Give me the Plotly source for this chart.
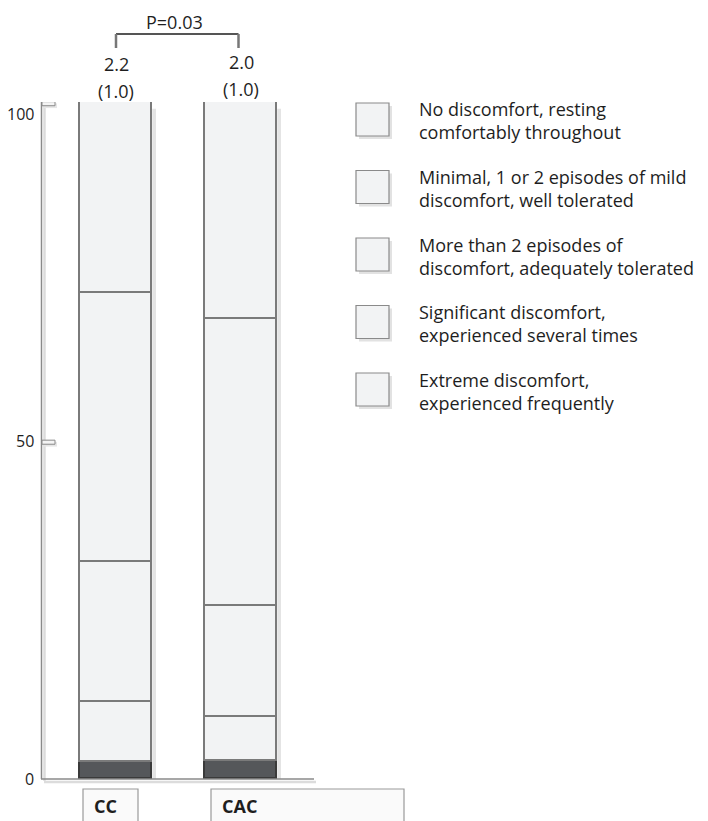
import plotly.graph_objects as go

# data (percent of patients per discomfort level)
groups = ["CC", "CAC"]
levels = [
    "No discomfort, resting<br>comfortably throughout",
    "Minimal, 1 or 2 episodes of mild<br>discomfort, well tolerated",
    "More than 2 episodes of<br>discomfort, adequately tolerated",
    "Significant discomfort,<br>experienced several times",
    "Extreme discomfort,<br>experienced frequently",
]
cc_pct = [28.2, 39.7, 20.7, 8.9, 2.5]
cac_pct = [32.0, 42.5, 16.4, 6.4, 2.7]
means = ["2.2", "2.0"]
sds = ["(1.0)", "(1.0)"]
p_label = "P=0.03"
yticks = [0, 50, 100]

PAGE = 8  # default body margin of the html page
W, H = 708 - PAGE, 821 - PAGE
L, R, T, B = 44, 313, 102, 779  # plot area in page pixels
FONT = "Open Sans"
TXT = "#1e1e1e"
LIGHT = "#f2f3f4"
EDGE = "#7a7a7a"


def px(x):
    return (x - L) / (R - L)


def py(y):
    return (B - y) / (B - T)


fig = go.Figure()

# stacked from the bottom: extreme first
for i in reversed(range(len(levels))):
    dark = i == len(levels) - 1
    fig.add_trace(go.Bar(
        x=groups,
        y=[cc_pct[i], cac_pct[i]],
        name=levels[i],
        width=0.576,
        marker=dict(color="#55575a" if dark else LIGHT,
                    line=dict(color="#3a3a3a" if dark else EDGE, width=1.6)),
        showlegend=False,
        hoverinfo="skip",
    ))

shapes = []
ann = []

# bar shadows
for gi, vals in enumerate([cc_pct, cac_pct]):
    shapes.append(dict(type="rect", xref="x", yref="y", layer="below",
                       x0=gi + 0.29, x1=gi + 0.32, y0=-0.5, y1=sum(vals) - 1,
                       fillcolor="#e4e4e4", line=dict(width=0)))

# axis: double vertical line + baseline with shadow
shapes += [
    dict(type="line", xref="paper", yref="paper", x0=px(44.5), x1=px(44.5), y0=py(104), y1=py(781),
         line=dict(color="#dcdcdc", width=2.5)),
    dict(type="line", xref="paper", yref="paper", x0=px(41.5), x1=px(41.5), y0=py(102), y1=py(779),
         line=dict(color="#8a8a8a", width=1.5)),
    dict(type="line", xref="paper", yref="paper", x0=px(44), x1=px(316), y0=py(782), y1=py(782),
         line=dict(color="#dcdcdc", width=2.5)),
    dict(type="line", xref="paper", yref="paper", x0=px(41), x1=px(314), y0=py(779), y1=py(779),
         line=dict(color="#8a8a8a", width=1.5)),
]
# little flag ticks at 100 and 50
for v in yticks[1:]:
    shapes.append(dict(type="rect", xref="paper", yref="y", x0=px(44), x1=px(57),
                       y0=v - 0.9, y1=v - 0.2, fillcolor="#e6e6e6", line=dict(width=0)))
    shapes.append(dict(type="rect", xref="paper", yref="y", x0=px(42), x1=px(55),
                       y0=v - 0.55, y1=v + 0.05, fillcolor="#f4f4f4",
                       line=dict(color="#8a8a8a", width=1)))

# tick labels
for v in yticks:
    ann.append(dict(x=px(36), y=v, xref="paper", yref="y", text=str(v), showarrow=False,
                    xanchor="right", yanchor="middle", yshift=-12 if v == 100 else 0,
                    font=dict(size=16, color=TXT)))

# mean (SD) above the bars
for gi in range(len(groups)):
    ann.append(dict(x=gi, y=py(64 - gi * 2), xref="x", yref="paper", text=means[gi],
                    showarrow=False, xanchor="center", yanchor="middle",
                    font=dict(size=18, color=TXT)))
    ann.append(dict(x=gi, y=py(91 - gi * 2), xref="x", yref="paper", text=sds[gi],
                    showarrow=False, xanchor="center", yanchor="middle",
                    font=dict(size=18, color=TXT)))

# significance bracket
shapes += [
    dict(type="line", xref="x", yref="paper", x0=0, x1=0.98, y0=py(34), y1=py(34),
         line=dict(color="#555555", width=2)),
    dict(type="line", xref="x", yref="paper", x0=0, x1=0, y0=py(34), y1=py(48),
         line=dict(color="#777777", width=2.5)),
    dict(type="line", xref="x", yref="paper", x0=0.98, x1=0.98, y0=py(34), y1=py(48),
         line=dict(color="#777777", width=2.5)),
]
ann.append(dict(x=px(174), y=py(9), xref="paper", yref="paper", text=p_label, showarrow=False,
                xanchor="center", yanchor="top", borderpad=0, font=dict(size=18, color=TXT)))

# category boxes under the axis
for name, (x0, x1) in zip(groups, [(83, 138), (211, 404)]):
    shapes.append(dict(type="rect", xref="paper", yref="paper", x0=px(x0), x1=px(x1),
                       y0=py(825), y1=py(789), fillcolor="#fafafa",
                       line=dict(color="#9a9a9a", width=1.2)))
    ann.append(dict(x=px(x0 + 9), y=py(806), xref="paper", yref="paper", text="<b>" + name + "</b>",
                    showarrow=False, xanchor="left", yanchor="middle",
                    font=dict(size=18, color=TXT)))

# hand-made legend on the right
for i, lab in enumerate(levels):
    top = 103 + 67.5 * i
    shapes.append(dict(type="rect", xref="paper", yref="paper", x0=px(359), x1=px(392),
                       y0=py(top + 36), y1=py(top + 3), fillcolor="#e2e2e2", line=dict(width=0)))
    shapes.append(dict(type="rect", xref="paper", yref="paper", x0=px(356), x1=px(389),
                       y0=py(top + 33), y1=py(top), fillcolor=LIGHT,
                       line=dict(color="#8a8a8a", width=1.2)))
    ann.append(dict(x=px(417), y=py(top + 18), xref="paper", yref="paper", text=lab,
                    showarrow=False, xanchor="left", yanchor="middle", align="left",
                    font=dict(size=18, color=TXT)))

fig.update_layout(
    width=W, height=H, autosize=False,
    margin=dict(l=L - PAGE, r=W - (R - PAGE), t=T - PAGE, b=H - (B - PAGE), pad=0),
    paper_bgcolor="white", plot_bgcolor="white",
    barmode="stack", bargap=0,
    font=dict(family=FONT, color=TXT),
    xaxis=dict(range=[-0.576, 1.576], showticklabels=False, showgrid=False,
               zeroline=False, showline=False, ticks=""),
    yaxis=dict(range=[0, 100], showticklabels=False, showgrid=False,
               zeroline=False, showline=False, ticks=""),
    shapes=shapes,
    annotations=ann,
)

fig.write_html("out.html")
